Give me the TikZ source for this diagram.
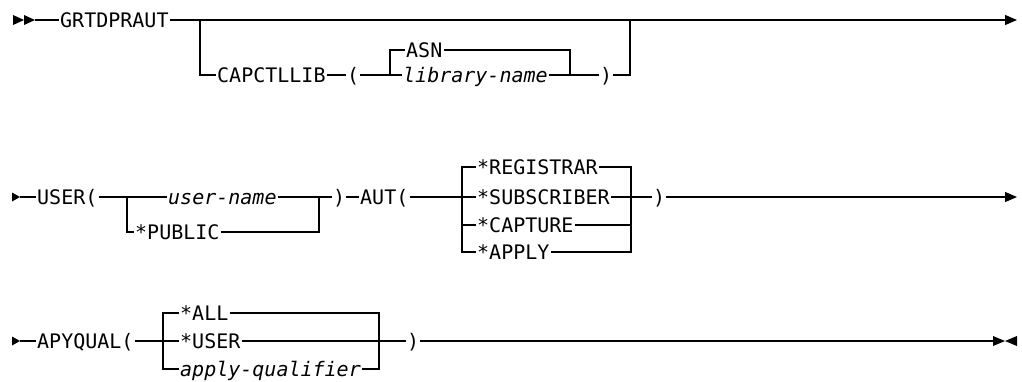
\documentclass[tikz,border=0pt]{standalone}
\usepackage{fontspec}
\newfontfamily\railfont{DejaVu Sans Mono}
\usetikzlibrary{arrows.meta}

\begin{document}
\begin{tikzpicture}[x=1pt, y=-1pt,
  kw/.style={anchor=west, inner xsep=1pt, inner ysep=0pt, text height=14.6pt, text depth=0pt, font=\railfont\fontsize{20}{24}\selectfont},
  var/.style={kw, font=\railfont\itshape\fontsize{20}{24}\selectfont},
  rail/.style={line width=1.1pt},
  railend/.style={rail, -{Triangle[length=12pt, width=10pt]}},
]
\useasboundingbox (0,0) rectangle (1022,381);

% GRTDPRAUT
\coordinate (s1) at (13,20);
\coordinate (s1e) at (35,20);
\node[kw] (grt) at (59,20) {GRTDPRAUT};
\coordinate (b1) at (200,20);
\coordinate (b1d) at (200,75);
\node[kw] (cap) at (216,75) {CAPCTLLIB};
\node[kw] (lp1) at (346,75) {(};
\coordinate (b2) at (390,75);
\coordinate (b2u) at (390,50);
\node[kw] (asn) at (405,50) {ASN};
\node[var] (lib) at (402,75) {library-name};
\coordinate (b3u) at (570,50);
\coordinate (b3) at (570,75);
\node[kw] (rp1) at (599,75) {)};
\coordinate (b4d) at (630,75);
\coordinate (b4) at (630,20);
\coordinate (e1) at (1017,20);

\fill (s1) -- ++(0,-5) -- ++(11,5) -- ++(-11,5) -- cycle;
\fill (s1)++(11,0) -- ++(0,-5) -- ++(11,5) -- ++(-11,5) -- cycle;
\draw[rail] (s1e) -- (grt.west);
\draw[railend] (grt.east) -- (e1);
\draw[rail] (b1) -- (b1d) -- (cap.west);
\draw[rail] (cap.east) -- (lp1.west);
\draw[rail] (lp1.east) -- (b2) -- (lib.west);
\draw[rail] (b2) -- (b2u) -- (asn.west);
\draw[rail] (asn.east) -- (b3u) -- (b3);
\draw[rail] (lib.east) -- (b3) -- (rp1.west);
\draw[rail] (rp1.east) -- (b4d) -- (b4);

% USER / AUT
\coordinate (s2) at (12,197);
\coordinate (s2e) at (20,197);
\node[kw] (usr) at (36,197) {USER(};
\coordinate (c1) at (127,197);
\coordinate (c1d) at (127,232);
\node[var] (uname) at (167,197) {user-name};
\node[kw] (pub) at (134,232) {*PUBLIC};
\coordinate (c2) at (319,197);
\coordinate (c2d) at (319,232);
\node[kw] (rp2) at (332,197) {)};
\node[kw] (aut) at (359,197) {AUT(};
\coordinate (c3u) at (462,167);
\coordinate (c3) at (462,197);
\coordinate (c3m) at (462,225);
\coordinate (c3d) at (462,252);
\node[kw] (reg) at (476,167) {*REGISTRAR};
\node[kw] (sub) at (476,197) {*SUBSCRIBER};
\node[kw] (cpt) at (476,225) {*CAPTURE};
\node[kw] (apl) at (476,252) {*APPLY};
\coordinate (c4u) at (631,167);
\coordinate (c4) at (631,197);
\coordinate (c4m) at (631,225);
\coordinate (c4d) at (631,252);
\node[kw] (rp3) at (652,197) {)};
\coordinate (e2) at (1017,197);

\fill (s2) -- ++(0,-4.5) -- ++(8,4.5) -- ++(-8,4.5) -- cycle;
\draw[rail] (s2e) -- (usr.west);
\draw[rail] (usr.east) -- (c1) -- (uname.west);
\draw[rail] (c1) -- (c1d) -- (pub.west);
\draw[rail] (uname.east) -- (c2) -- (rp2.west);
\draw[rail] (pub.east) -- (c2d) -- (c2);
\draw[rail] (rp2.east) -- (aut.west);
\draw[rail] (aut.east) -- (c3) -- (sub.west);
\draw[rail] (reg.west) -- (c3u) -- (c3d) -- (apl.west);
\draw[rail] (c3m) -- (cpt.west);
\draw[rail] (reg.east) -- (c4u) -- (c4d) -- (apl.east);
\draw[rail] (cpt.east) -- (c4m);
\draw[rail] (sub.east) -- (rp3.west);
\draw[railend] (rp3.east) -- (e2);

% APYQUAL
\coordinate (s3) at (12,341);
\coordinate (s3e) at (20,341);
\node[kw] (apq) at (36,341) {APYQUAL(};
\coordinate (d1u) at (163,313);
\coordinate (d1) at (163,341);
\coordinate (d1d) at (163,369);
\node[kw] (all) at (179,313) {*ALL};
\node[kw] (usr2) at (179,341) {*USER};
\node[var] (aq) at (179,369) {apply-qualifier};
\coordinate (d2u) at (379,313);
\coordinate (d2) at (379,341);
\coordinate (d2d) at (379,369);
\node[kw] (rp4) at (406,341) {)};
\coordinate (e3) at (993,341);

\fill (s3) -- ++(0,-4.5) -- ++(8,4.5) -- ++(-8,4.5) -- cycle;
\draw[rail] (s3e) -- (apq.west);
\draw[rail] (apq.east) -- (d1) -- (usr2.west);
\draw[rail] (all.west) -- (d1u) -- (d1d) -- (aq.west);
\draw[rail] (all.east) -- (d2u) -- (d2d) -- (aq.east);
\draw[rail] (usr2.east) -- (rp4.west);
\draw[rail] (rp4.east) -- (e3);
\fill (e3) -- ++(0,-5) -- ++(12,5) -- ++(-12,5) -- cycle;
\fill (e3)++(24,0) -- ++(0,-5) -- ++(-12,5) -- ++(12,5) -- cycle;

\end{tikzpicture}
\end{document}
